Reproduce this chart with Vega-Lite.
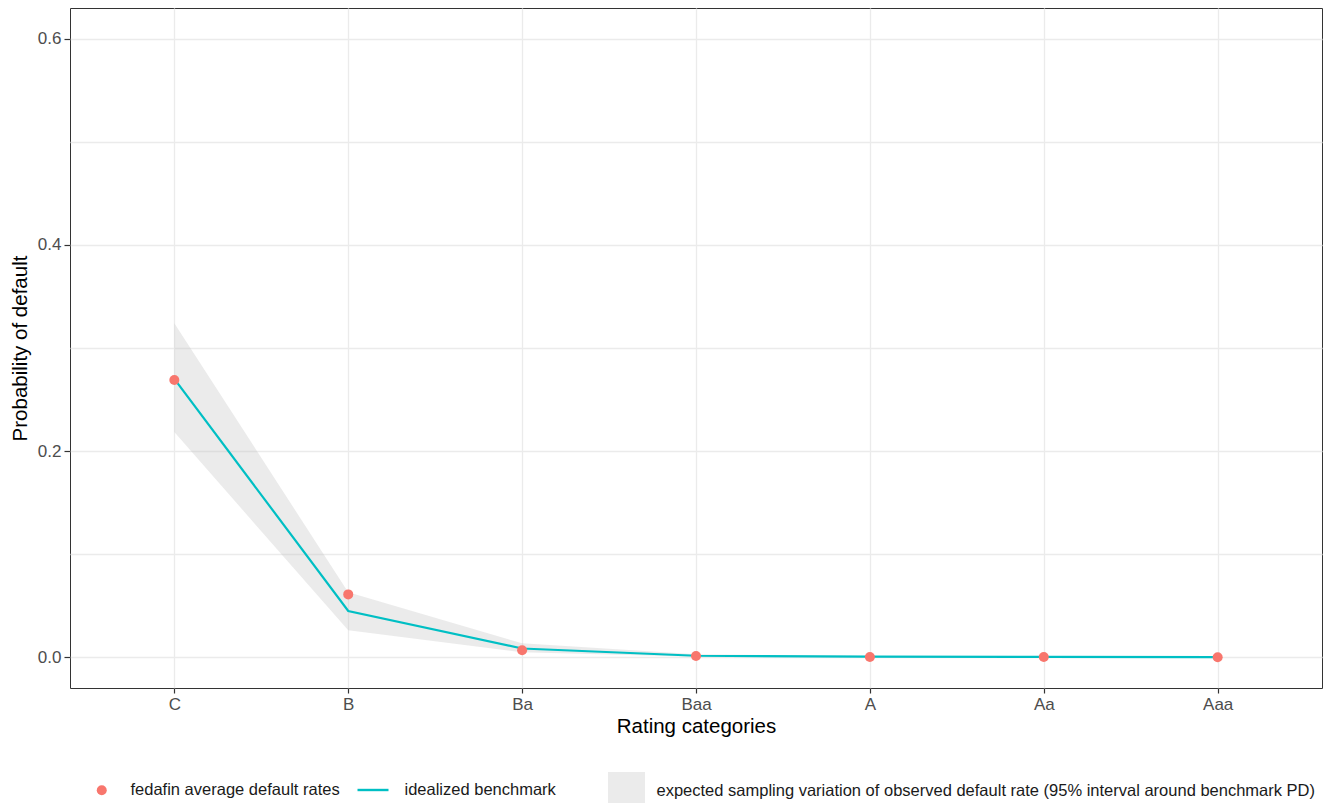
{
  "$schema": "https://vega.github.io/schema/vega-lite/v6.json",
  "width": 1252,
  "height": 680,
  "autosize": {"type": "none"},
  "padding": {"left": 70, "top": 8, "right": 11, "bottom": 115},
  "background": "white",
  "data": {
    "values": [
      {"rating": "C", "observed": 0.269, "benchmark": 0.270, "lower": 0.2184, "upper": 0.324},
      {"rating": "B", "observed": 0.061, "benchmark": 0.0449, "lower": 0.0262, "upper": 0.063},
      {"rating": "Ba", "observed": 0.0068, "benchmark": 0.0085, "lower": 0.0048, "upper": 0.0135},
      {"rating": "Baa", "observed": 0.0012, "benchmark": 0.0015, "lower": 0.0005, "upper": 0.003},
      {"rating": "A", "observed": 0.0003, "benchmark": 0.0006, "lower": 0.0001, "upper": 0.0012},
      {"rating": "Aa", "observed": 0.0002, "benchmark": 0.0003, "lower": 0.0, "upper": 0.0007},
      {"rating": "Aaa", "observed": 0.0001, "benchmark": 0.0001, "lower": 0.0, "upper": 0.0003}
    ]
  },
  "encoding": {
    "x": {
      "field": "rating",
      "type": "ordinal",
      "sort": ["C", "B", "Ba", "Baa", "A", "Aa", "Aaa"],
      "scale": {"type": "point", "padding": 0.6},
      "axis": {
        "title": "Rating categories",
        "labelAngle": 0,
        "grid": true
      }
    }
  },
  "layer": [
    {
      "mark": {"type": "area", "opacity": 0.3},
      "encoding": {
        "y": {"field": "lower", "type": "quantitative"},
        "y2": {"field": "upper"},
        "fill": {
          "datum": "expected sampling variation of observed default rate (95% interval around benchmark PD)",
          "scale": {"range": ["#BEBEBE"]},
          "legend": {
            "orient": "none",
            "legendX": 538,
            "legendY": 764,
            "symbolType": "square",
            "symbolSize": 1369,
            "symbolOpacity": 0.3,
            "symbolStrokeWidth": 0,
            "labelOffset": 11.5
          }
        }
      }
    },
    {
      "mark": {"type": "line", "strokeWidth": 2.2},
      "encoding": {
        "y": {"field": "benchmark", "type": "quantitative"},
        "stroke": {
          "datum": "idealized benchmark",
          "scale": {"range": ["#00BFC4"]},
          "legend": {
            "orient": "none",
            "legendX": 286,
            "legendY": 765,
            "symbolType": "stroke",
            "symbolSize": 961,
            "symbolStrokeWidth": 2.4,
            "labelOffset": 14.5
          }
        }
      }
    },
    {
      "mark": {"type": "point", "filled": true, "size": 100, "opacity": 1},
      "encoding": {
        "y": {
          "field": "observed",
          "type": "quantitative",
          "scale": {"domain": [-0.0298, 0.6297], "nice": false, "zero": false},
          "axis": {
            "title": "Probability of default",
            "values": [0, 0.1, 0.2, 0.3, 0.4, 0.5, 0.6],
            "labelExpr": "round(datum.value*10) % 2 == 1 ? '' : format(datum.value, '.1f')",
            "tickOpacity": {"condition": {"test": "round(datum.value*10) % 2 == 1", "value": 0}, "value": 1},
            "grid": true
          }
        },
        "color": {
          "datum": "fedafin average default rates",
          "scale": {"range": ["#F8766D"]},
          "legend": {
            "orient": "none",
            "legendX": 23.5,
            "legendY": 774,
            "symbolType": "circle",
            "symbolSize": 100,
            "labelOffset": 20.5
          }
        }
      }
    }
  ],
  "config": {
    "font": "Liberation Sans",
    "view": {"stroke": "#333333", "strokeWidth": 1},
    "axis": {
      "domain": false,
      "gridColor": "#EBEBEB",
      "gridWidth": 1.3,
      "tickColor": "#333333",
      "tickWidth": 1.2,
      "tickSize": 6,
      "labelFont": "Liberation Sans",
      "labelFontSize": 17,
      "labelColor": "#4D4D4D",
      "labelPadding": 3,
      "titleFont": "Liberation Sans",
      "titleFontSize": 20.5,
      "titleFontWeight": "normal",
      "titleColor": "#000000"
    },
    "axisX": {"tickSize": 5, "titlePadding": 4},
    "axisY": {"titlePadding": 7},
    "legend": {
      "title": null,
      "padding": 0,
      "offset": 0,
      "labelFont": "Liberation Sans",
      "labelFontSize": 16.5,
      "labelColor": "#1A1A1A",
      "labelLimit": 1000
    }
  }
}
